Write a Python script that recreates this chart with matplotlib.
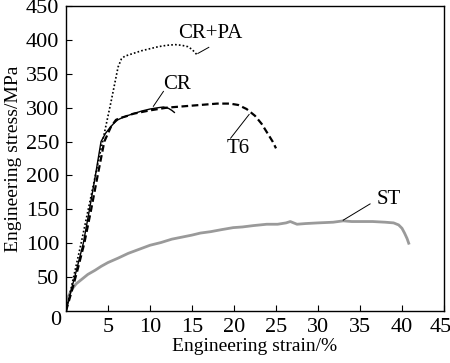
import numpy as np
import matplotlib.pyplot as plt
from matplotlib.transforms import ScaledTranslation

plt.rcParams["font.family"] = ["Liberation Serif", "DejaVu Serif"]

# Engineering strain (%) / stress (MPa)
cr_pa_strain = [0, 1.8, 3.6, 5.4, 6.2, 6.6, 7.0, 8.0, 9.0, 10.0, 11.0, 12.0, 13.0, 13.8, 14.5, 15.0, 15.3, 15.6]
cr_pa_stress = [0, 100, 206, 311, 360, 372, 376, 380, 384, 387, 390, 392, 393, 392, 390, 386, 382, 378]

cr_strain = [0, 0.6, 1.2, 2.06, 2.8, 3.5, 4.17, 4.7, 5.2, 5.7, 6.15, 7.0, 8.0, 9.0, 10.0, 11.0, 11.6, 12.2, 12.6, 12.9]
cr_stress = [0, 30, 58, 100, 150, 200, 250, 262, 270, 277, 282, 287, 291, 295, 298, 300, 301, 299, 296, 293]

t6_strain = [0, 0.7, 1.4, 2.18, 3.0, 3.77, 4.56, 5.36, 5.95, 6.5, 7.1, 8.0, 10.0, 12.0, 14.0, 16.0, 18.0, 19.5, 20.5, 21.5, 22.5, 23.3, 24.0, 24.6, 25.0]
t6_stress = [0, 30, 62, 100, 150, 200, 250, 272, 282, 285, 287, 291, 296, 300, 302, 304, 306, 306, 304, 298, 288, 276, 262, 250, 240]

st_strain = [0, 0.1, 0.3, 0.7, 1.2, 1.9, 2.6, 3.45, 4.2, 5.0, 6.2, 7.4, 8.7, 10.0, 11.3, 12.6, 13.8, 15.0, 16.0, 17.2, 18.5, 19.9, 21.0, 22.3, 23.9, 25.2, 26.2, 26.7, 27.1, 27.5, 28.5, 30.0, 31.8, 33.0, 34.0, 35.0, 36.5, 38.0, 39.0, 39.6, 40.0, 40.3, 40.6, 40.8]
st_stress = [0, 11, 22, 32, 40, 47, 54, 60, 66, 71.5, 78, 85, 91, 97, 101, 106, 109, 112, 115, 117, 120, 123, 124, 126, 128, 128, 130, 132, 130, 128, 129, 130, 131, 133, 132, 132, 132, 131, 130, 127, 122, 115, 107, 100]

x_ticks = [5, 10, 15, 20, 25, 30, 35, 40, 45]
y_ticks = [50, 100, 150, 200, 250, 300, 350, 400, 450]

fig = plt.figure(figsize=(4.5, 3.63), dpi=100)
ax = fig.add_axes([66 / 450, 1 - 311 / 363, 378 / 450, 305 / 363])

ax.plot(st_strain, st_stress, color="#9a9a9a", lw=2.0)
ax.plot(cr_pa_strain, cr_pa_stress, color="black", lw=1.2, ls=(0, (1, 1.3)))
ax.plot(t6_strain, t6_stress, color="black", lw=1.6, ls=(0, (3, 1.6)))
ax.plot(cr_strain, cr_stress, color="black", lw=1.0)

ax.set_xlim(0, 45)
ax.set_ylim(0, 450)
ax.set_xticks(x_ticks)
ax.set_yticks(y_ticks)
ax.tick_params(direction="in", length=4, width=0.8, labelsize=16, pad=5)
for s in ax.spines.values():
    s.set_linewidth(1.0)
ax.text(-0.012, -0.03, "0", transform=ax.transAxes, ha="right", va="center", fontsize=16)

# keep the last x tick label ("45") inside the canvas
last = ax.get_xticklabels()[-1]
last.set_transform(last.get_transform() + ScaledTranslation(-3 / 100, 0, fig.dpi_scale_trans))

ax.set_xlabel("Engineering strain/%", fontsize=14, labelpad=1)
ax.set_ylabel("Engineering stress/MPa", fontsize=14, labelpad=3)

# labels with leader lines
fs = 15
ax.plot([15.7, 17.0], [380, 389], color="black", lw=0.7)
ax.text(17.2, 410, "CR+PA", fontsize=fs, ha="center", va="center")
ax.plot([10.4, 11.6], [302, 324], color="black", lw=0.7)
ax.text(13.2, 334, "CR", fontsize=fs, ha="center", va="center")
ax.plot([19.6, 21.8], [255, 290], color="black", lw=0.7)
ax.text(20.5, 240, "T6", fontsize=fs, ha="center", va="center")
ax.plot([33.0, 36.2], [134, 158], color="black", lw=0.7)
ax.text(38.4, 164, "ST", fontsize=fs, ha="center", va="center")

fig.savefig("out.png", dpi=100)
